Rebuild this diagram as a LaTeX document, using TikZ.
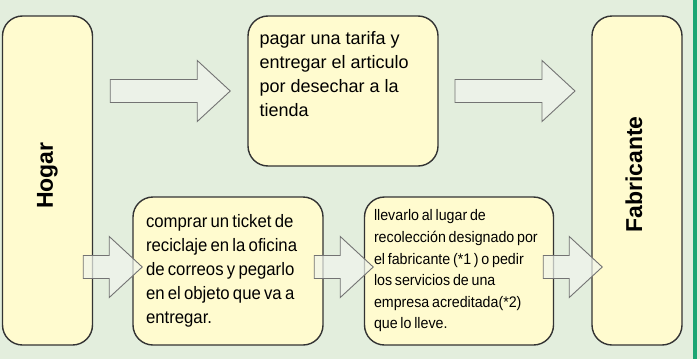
\documentclass[tikz,border=0pt]{standalone}
\usepackage{fontspec}
\usepackage{graphicx}
\setmainfont{Liberation Sans}
\newfontfamily\estrecha[FakeStretch=0.93]{Liberation Sans}
\newcommand{\apretar}{\spaceskip=0.18em\relax}
\usetikzlibrary{calc}
\definecolor{fondoverde}{HTML}{E3EEDD}
\definecolor{amarillo}{HTML}{FFFBCF}
\definecolor{flechagris}{HTML}{F0F5EE}
\definecolor{barraverde}{HTML}{1BA673}
\definecolor{borde}{HTML}{333333}
\newcommand{\flechagorda}[4]{%
  \coordinate (#1) at #2;
  \draw [flecha] ($(#1)+(-#3,-11.5)$) -- ($(#1)+(#3-#4,-11.5)$) -- ($(#1)+(#3-#4,-30.5)$)
    -- ($(#1)+(#3,0)$) -- ($(#1)+(#3-#4,30.5)$) -- ($(#1)+(#3-#4,11.5)$)
    -- ($(#1)+(-#3,11.5)$) -- cycle;
}
\begin{document}
\begin{tikzpicture}[x=1pt, y=-1pt,
    caja/.style={draw=borde, line width=1.4pt, fill=amarillo, rounded corners=20pt, inner sep=0pt},
    flecha/.style={draw=black!55, line width=0.9pt, fill=flechagris, fill opacity=0.7},
    rotulo/.style={font=\bfseries\fontsize{23}{27}\selectfont, inner sep=0pt}]
    \fill [fondoverde] (0,0) rectangle (700,359);
    \fill [barraverde] (693,0) rectangle (697,359);
    \node [caja, minimum width=90pt, minimum height=329pt] (hogar) at (47.5,180.5) {};
    \node [caja, minimum width=90pt, minimum height=329pt] (fabricante) at (637,180.5) {};
    \node [caja, minimum width=190pt, minimum height=150pt] (pagar) at (343,91) {};
    \node [caja, minimum width=190pt, minimum height=148pt, text width=164pt, align=left,
        font=\estrecha\fontsize{18}{24}\selectfont] (comprar) at (228,271)
        {\apretar comprar un ticket de\\reciclaje en la oficina\\de correos y pegarlo\\en el objeto que va a\\entregar.};
    \node [caja, minimum width=189pt, minimum height=148pt, text width=170pt, align=left,
        font=\estrecha\fontsize{15.3}{21.6}\selectfont] (llevarlo) at (459,271)
        {\apretar llevarlo al lugar de\\recolección designado por\\el fabricante (*1 ) o pedir\\los servicios de una\\empresa acreditada(*2)\\que lo lleve.};
    \node [rotulo] (hogartxt) at ($(hogar.center)+(0,-5)$) {\rotatebox{90}{Hogar}};
    \node [rotulo] (fabricantetxt) at ($(fabricante.center)+(-3,-6)$) {\rotatebox{90}{Fabricante}};
    \node [anchor=north west, inner sep=0pt, align=left, font=\fontsize{18}{24}\selectfont] (pagartxt)
        at ($(pagar.north west)+(12,16)$) {pagar una tarifa y\\entregar el articulo\\por desechar a la\\tienda};
    \flechagorda{f1}{($(hogar.east |- pagar.west)!.5!(pagar.west)$)}{60}{33}
    \flechagorda{f2}{($(pagar.east)!.5!(fabricante.west |- pagar.east)$)}{60}{33}
    \flechagorda{f3}{($(hogar.east |- comprar.west)!.5!(comprar.west)+(0,-4)$)}{29.5}{33}
    \flechagorda{f4}{($(comprar.east)!.5!(llevarlo.west)+(0,-4)$)}{29.5}{33}
    \flechagorda{f5}{($(llevarlo.east)!.5!(fabricante.west |- llevarlo.east)+(0,-4)$)}{29.5}{33}
\end{tikzpicture}
\end{document}
